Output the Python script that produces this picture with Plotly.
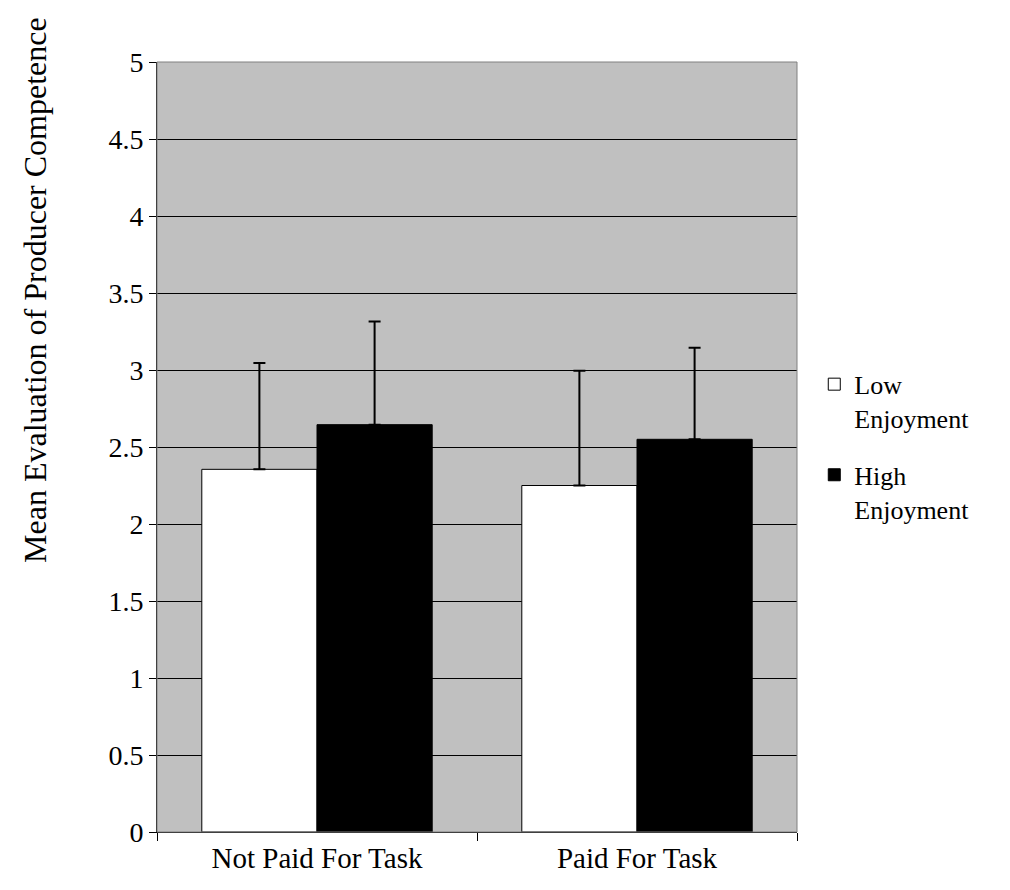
import plotly.graph_objects as go

categories = ["Not Paid For Task", "Paid For Task"]
low_values = [2.355, 2.25]
low_err = [0.69, 0.745]
high_values = [2.645, 2.55]
high_err = [0.67, 0.595]
y_ticks = [0, 0.5, 1, 1.5, 2, 2.5, 3, 3.5, 4, 4.5, 5]
y_tick_labels = ["0", "0.5", "1", "1.5", "2", "2.5", "3", "3.5", "4", "4.5", "5"]
y_title = "Mean Evaluation of Producer Competence"

font_family = "Liberation Serif, Times New Roman, serif"

fig = go.Figure()
fig.add_trace(go.Bar(
    x=categories, y=low_values, name="Low<br>Enjoyment", legendgroup="low",
    marker=dict(color="white", line=dict(color="black", width=1)),
    error_y=dict(type="data", array=low_err, arrayminus=[0, 0], symmetric=False,
                 color="black", thickness=2, width=6),
))
fig.add_trace(go.Bar(
    x=categories, y=high_values, name="High<br>Enjoyment", legendgroup="high",
    marker=dict(color="black", line=dict(color="black", width=1)),
    error_y=dict(type="data", array=high_err, arrayminus=[0, 0], symmetric=False,
                 color="black", thickness=2, width=6),
))

fig.update_layout(
    width=1010, height=890,
    margin=dict(l=149, r=221, t=54, b=66),
    paper_bgcolor="white",
    plot_bgcolor="#C0C0C0",
    barmode="group",
    bargap=0.28,
    bargroupgap=0,
    font=dict(family=font_family, size=26, color="black"),
    legend=dict(x=1.027, y=0.612, xanchor="left", yanchor="top",
                font=dict(family=font_family, size=26, color="black"),
                valign="top",
                tracegroupgap=20, itemwidth=30, bgcolor="rgba(0,0,0,0)"),
    xaxis=dict(
        showgrid=False, ticks="outside", tickson="boundaries", ticklen=8,
        tickcolor="black", showline=True, linecolor="black", linewidth=1,
        tickfont=dict(size=29), automargin=False,
    ),
    yaxis=dict(
        range=[0, 5], tickvals=y_ticks, ticktext=y_tick_labels,
        showgrid=True, gridcolor="black", gridwidth=1,
        ticks="outside", ticklen=7, tickcolor="black",
        showline=True, linecolor="black", linewidth=1,
        zeroline=False, automargin=False,
        tickfont=dict(size=28),
    ),
    annotations=[dict(text=y_title, textangle=-90, xref="paper", yref="paper",
                      x=0, y=0.704, xanchor="center", yanchor="middle",
                      xshift=-122, showarrow=False,
                      font=dict(family=font_family, size=32, color="black"))],
    shapes=[dict(type="rect", xref="paper", yref="paper", x0=0, x1=1, y0=0, y1=1,
                 line=dict(color="#808080", width=1), layer="above")],
)

fig.write_html("out.html")
